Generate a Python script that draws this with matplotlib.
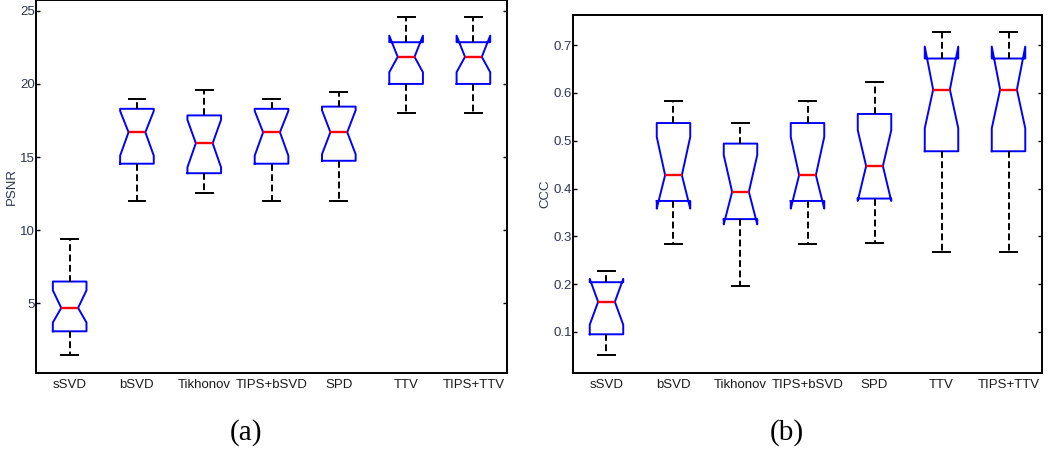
import matplotlib.pyplot as plt

# ---- data ----
methods = ['sSVD', 'bSVD', 'Tikhonov', 'TIPS+bSVD', 'SPD', 'TTV', 'TIPS+TTV']

# PSNR (panel a)
psnr_whislo = [1.5, 12.0, 12.55, 12.0, 12.0, 18.0, 18.0]
psnr_q1 = [3.1, 14.55, 13.9, 14.55, 14.75, 20.0, 20.0]
psnr_cilo = [3.7, 15.1, 14.3, 15.1, 15.2, 20.8, 20.8]
psnr_med = [4.7, 16.7, 15.95, 16.7, 16.7, 21.85, 21.85]
psnr_cihi = [5.9, 18.15, 17.55, 18.15, 18.2, 23.3, 23.3]
psnr_q3 = [6.5, 18.3, 17.85, 18.3, 18.45, 22.85, 22.85]
psnr_whishi = [9.4, 19.0, 19.6, 19.0, 19.45, 24.55, 24.55]

# CCC (panel b)
ccc_whislo = [0.051, 0.283, 0.197, 0.283, 0.287, 0.267, 0.267]
ccc_q1 = [0.095, 0.374, 0.336, 0.374, 0.379, 0.478, 0.478]
ccc_cilo = [0.115, 0.358, 0.325, 0.358, 0.374, 0.526, 0.526]
ccc_med = [0.163, 0.428, 0.393, 0.428, 0.447, 0.607, 0.607]
ccc_cihi = [0.211, 0.508, 0.470, 0.508, 0.522, 0.697, 0.697]
ccc_q3 = [0.204, 0.537, 0.494, 0.537, 0.556, 0.672, 0.672]
ccc_whishi = [0.228, 0.584, 0.537, 0.584, 0.623, 0.727, 0.727]


def make_stats(lo, q1, cilo, med, cihi, q3, hi):
    out = []
    for i in range(len(methods)):
        out.append(dict(whislo=lo[i], q1=q1[i], cilo=cilo[i], med=med[i],
                        cihi=cihi[i], q3=q3[i], whishi=hi[i], fliers=[],
                        label=methods[i]))
    return out


fig = plt.figure(figsize=(10.5, 4.51), dpi=100)
ax1 = fig.add_axes([0.0343, 0.1729, 0.4486, 0.8260])
ax2 = fig.add_axes([0.5457, 0.1729, 0.4467, 0.7938])

tick_font = dict(family=['Liberation Sans', 'DejaVu Sans'], size=9.5)


def draw(ax, stats, ylim, yticks, yticklabels, ylabel):
    ax.bxp(stats, positions=range(1, len(methods) + 1), widths=0.5,
           shownotches=True, showfliers=False,
           boxprops=dict(color='#0000ff', lw=1.4),
           medianprops=dict(color='#ff0000', lw=1.7),
           whiskerprops=dict(color='black', lw=1.4, linestyle=(0, (3.5, 1.8))),
           capprops=dict(color='black', lw=1.4))
    ax.set_xlim(0.5, len(methods) + 0.5)
    ax.set_ylim(*ylim)
    ax.set_yticks(yticks)
    ax.set_yticklabels(yticklabels, **tick_font, color='#2d3550')
    ax.set_xticks(range(1, len(methods) + 1))
    ax.set_xticklabels(methods, **tick_font, color='#1a1a1a')
    ax.tick_params(axis='x', length=0, pad=4)
    ax.tick_params(axis='y', direction='in', length=3, right=True, width=1.0, pad=1)
    for s in ax.spines.values():
        s.set_linewidth(1.4)
    ax.set_ylabel(ylabel, fontdict=tick_font, color='#2d3550', labelpad=1)


draw(ax1, make_stats(psnr_whislo, psnr_q1, psnr_cilo, psnr_med, psnr_cihi, psnr_q3, psnr_whishi),
     (0.25, 25.7), [5, 10, 15, 20, 25], ['5', '10', '15', '20', '25'], 'PSNR')
draw(ax2, make_stats(ccc_whislo, ccc_q1, ccc_cilo, ccc_med, ccc_cihi, ccc_q3, ccc_whishi),
     (0.014, 0.763), [0.1, 0.2, 0.3, 0.4, 0.5, 0.6, 0.7],
     ['0.1', '0.2', '0.3', '0.4', '0.5', '0.6', '0.7'], 'CCC')

fig.text(246 / 1050, 1 - 433 / 451, '(a)', ha='center', va='center',
         family=['Liberation Serif', 'DejaVu Serif'], size=21)
fig.text(787 / 1050, 1 - 433 / 451, '(b)', ha='center', va='center',
         family=['Liberation Serif', 'DejaVu Serif'], size=21)

fig.savefig('out.png', dpi=100)
